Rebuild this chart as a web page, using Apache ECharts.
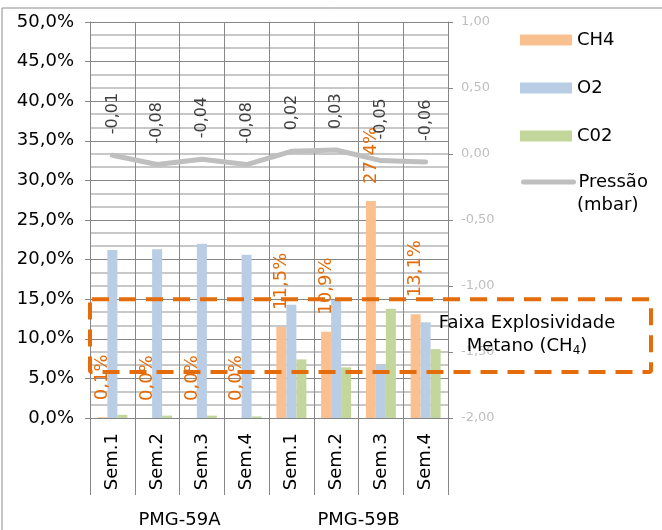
<!DOCTYPE html>
<html><head><meta charset="utf-8">
<script src="https://cdn.jsdelivr.net/npm/echarts@6/dist/echarts.min.js"></script>
<style>html,body{margin:0;padding:0;background:#fff}#c{width:662px;height:530px}</style>
</head><body><div id="c"></div>
<script>
const categories = ['Sem.1','Sem.2','Sem.3','Sem.4','Sem.1','Sem.2','Sem.3','Sem.4'];
const groups = ['PMG-59A','PMG-59B'];
const ch4 = [0.1, 0.0, 0.0, 0.0, 11.5, 10.9, 27.4, 13.1];
const o2 = [21.2, 21.3, 22.0, 20.6, 14.3, 14.9, 6.7, 12.1];
const co2 = [0.4, 0.3, 0.3, 0.2, 7.4, 6.4, 13.8, 8.7];
const pressure = [-0.01, -0.08, -0.04, -0.08, 0.02, 0.03, -0.05, -0.06];
const leftAxisRange = [0, 50, 5];
const rightAxisRange = [-2, 1, 0.5];
const explosiveRange = [5.8, 15];
const seriesNames = ['CH4', 'O2', 'C02', 'Pressão'];

const FONT = 'DejaVu Sans';
const GRID = '#878787';
const comma = (v, d) => v.toFixed(d).replace('.', ',');

const chart = echarts.init(document.getElementById('c'), null, {renderer: 'canvas'});
const option = {
  animation: false,
  textStyle: {fontFamily: FONT},
  grid: {left: 90, right: 214, top: 22, bottom: 112, containLabel: false},
  legend: [{
    data: seriesNames.slice(0, 3).map(n => ({name: n, icon: 'rect'})),
    orient: 'vertical', left: 520, top: 31, padding: 0,
    itemWidth: 52, itemHeight: 11, itemGap: 30,
    textStyle: {fontSize: 18, color: '#000', fontFamily: FONT},
    selectedMode: false
  }, {
    data: [{name: 'Pressão', itemStyle: {opacity: 0}, lineStyle: {width: 5, color: '#BFBFBF', cap: 'round'}}],
    orient: 'vertical', left: 521, top: 173, padding: 0,
    itemWidth: 50, itemHeight: 11,
    textStyle: {fontSize: 18, color: '#000', fontFamily: FONT},
    selectedMode: false
  }],
  xAxis: [{
    type: 'category', data: categories, position: 'bottom', z: 3,
    axisLine: {show: true, lineStyle: {color: GRID, width: 1}},
    axisTick: {show: true, length: 77, lineStyle: {color: GRID}},
    axisLabel: {rotate: 90, margin: 15, fontSize: 18, color: '#000', fontFamily: FONT},
    splitLine: {show: true, lineStyle: {color: GRID, width: 1}}
  }, {
    type: 'category', data: groups, position: 'bottom',
    axisLine: {show: false},
    axisTick: {show: true, length: 115, lineStyle: {color: GRID}},
    axisLabel: {margin: 93, fontSize: 18, color: '#000', fontFamily: FONT},
    splitLine: {show: false}
  }],
  yAxis: [{
    type: 'value', min: leftAxisRange[0], max: leftAxisRange[1], interval: leftAxisRange[2], z: 3,
    axisLine: {show: true, lineStyle: {color: GRID}},
    axisTick: {show: true, length: 5, lineStyle: {color: GRID}},
    axisLabel: {margin: 16, fontSize: 18, color: '#000', fontFamily: FONT, formatter: v => comma(v, 1) + '%'},
    splitLine: {show: true, lineStyle: {color: GRID, width: 1}}
  }, {
    type: 'value', min: rightAxisRange[0], max: rightAxisRange[1], interval: rightAxisRange[2],
    position: 'right', z: 3,
    axisLine: {show: true, lineStyle: {color: GRID}},
    axisTick: {show: true, length: 5, lineStyle: {color: GRID}},
    axisLabel: {margin: 13, fontSize: 13, color: '#BFBFBF', fontFamily: FONT, formatter: v => comma(v, 2)},
    splitLine: {show: false}
  }],
  series: [{
    name: seriesNames[0], type: 'bar', data: ch4, barWidth: 10, barGap: '0%',
    itemStyle: {color: '#FAC090'},
    label: {show: true, position: 'top', distance: 17, rotate: 90, align: 'left', verticalAlign: 'middle',
      color: '#E46C0A', fontSize: 18, fontFamily: FONT, formatter: p => comma(p.value, 1) + '%'},
    z: 4
  }, {
    name: seriesNames[1], type: 'bar', data: o2, barWidth: 10, barGap: '0%',
    itemStyle: {color: '#B9CDE5'}, z: 4
  }, {
    name: seriesNames[2], type: 'bar', data: co2, barWidth: 10, barGap: '0%',
    itemStyle: {color: '#C3D69B'}, z: 4
  }, {
    name: seriesNames[3], type: 'line', data: pressure, yAxisIndex: 1,
    symbol: 'circle', symbolSize: 0, showSymbol: true,
    itemStyle: {color: '#BFBFBF'},
    lineStyle: {color: '#BFBFBF', width: 5, cap: 'round', join: 'round'},
    label: {show: true, position: 'top', distance: 21, rotate: 90, align: 'left', verticalAlign: 'middle',
      color: '#404040', fontSize: 16, fontFamily: FONT, formatter: p => comma(p.value, 2)},
    z: 6
  }]
};
chart.setOption(option);

// light minor grid lines: every third of a major step, positioned through the left axis
const minorStep = leftAxisRange[2] / 3;
const xLeft = chart.convertToPixel({xAxisIndex: 0}, 0) - (chart.convertToPixel({xAxisIndex: 0}, 1) - chart.convertToPixel({xAxisIndex: 0}, 0)) / 2;
const xRight = chart.convertToPixel({xAxisIndex: 0}, categories.length - 1) + (chart.convertToPixel({xAxisIndex: 0}, 1) - chart.convertToPixel({xAxisIndex: 0}, 0)) / 2;
const minorLines = [];
for (let k = 1; k * minorStep < leftAxisRange[1] - 1e-9; k++) {
  if (k % 3 === 0) continue;
  const y = Math.round(chart.convertToPixel({yAxisIndex: 0}, k * minorStep));
  minorLines.push({
    type: 'line', silent: true, z: 1,
    shape: {x1: xLeft, y1: y, x2: xRight, y2: y},
    style: {stroke: '#C8C8C8', lineWidth: 2}
  });
}

const yTop = chart.convertToPixel({yAxisIndex: 0}, explosiveRange[1]);
const yBot = chart.convertToPixel({yAxisIndex: 0}, explosiveRange[0]);
chart.setOption({
  graphic: minorLines.concat([{
    type: 'rect', silent: true, z: 0,
    shape: {x: 2, y: 8, width: 720, height: 640},
    style: {fill: 'none', stroke: '#8C8C8C', lineWidth: 1}
  }, {
    type: 'rect', silent: true, z: 10,
    shape: {x: 90, y: yTop, width: 561, height: yBot - yTop, r: 2},
    style: {fill: 'none', stroke: '#E46C0A', lineWidth: 4, lineDash: [17, 10]}
  }, {
    type: 'text', silent: true, z: 11,
    style: {x: 527, y: yTop + 24, text: 'Faixa Explosividade', align: 'center', verticalAlign: 'middle',
      font: '18px "DejaVu Sans"', fill: '#000'}
  }, {
    type: 'text', silent: true, z: 11,
    style: {x: 527, y: yTop + 47, align: 'center', verticalAlign: 'middle',
      text: '{a|Metano (CH}{s|4}{a|)}',
      rich: {a: {fontSize: 18, fontFamily: FONT, color: '#000'},
             s: {fontSize: 12, fontFamily: FONT, color: '#000', padding: [10, 0, 0, 0]}}}
  }, {
    type: 'text', silent: true, z: 11,
    style: {x: 577, y: 205, text: '(mbar)', align: 'left', verticalAlign: 'middle',
      font: '18px "DejaVu Sans"', fill: '#000'}
  }])
});
</script></body></html>
